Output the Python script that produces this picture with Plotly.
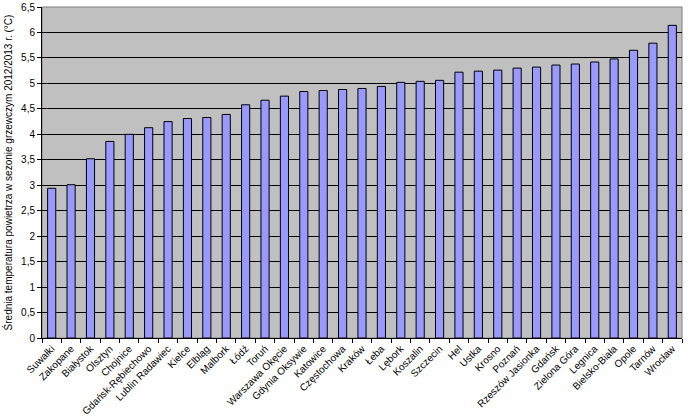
import plotly.graph_objects as go

cities = [
    "Suwałki", "Zakopane", "Białystok", "Olsztyn", "Chojnice",
    "Gdańsk-Rębiechowo", "Lublin Radawiec", "Kielce", "Elbląg", "Malbork",
    "Łódź", "Toruń", "Warszawa Okęcie", "Gdynia Oksywie", "Katowice",
    "Częstochowa", "Kraków", "Łeba", "Lębork", "Koszalin",
    "Szczecin", "Hel", "Ustka", "Krosno", "Poznań",
    "Rzeszów Jasionka", "Gdańsk", "Zielona Góra", "Legnica", "Bielsko-Biała",
    "Opole", "Tarnów", "Wrocław",
]
temps = [
    2.94, 3.01, 3.52, 3.86, 4.00,
    4.13, 4.25, 4.31, 4.33, 4.39,
    4.58, 4.67, 4.75, 4.84, 4.86,
    4.88, 4.90, 4.94, 5.02, 5.04,
    5.06, 5.22, 5.24, 5.26, 5.30,
    5.32, 5.36, 5.38, 5.42, 5.48,
    5.65, 5.79, 6.14,
]
y_title = "Średnia temperatura powietrza w sezonie grzewczym 2012/2013 r. (°C)"

font_family = "Arial, Liberation Sans, sans-serif"

fig = go.Figure()
fig.add_trace(go.Bar(
    x=cities,
    y=temps,
    marker=dict(color="#9999FF", line=dict(color="black", width=1)),
    showlegend=False,
))

fig.update_layout(
    width=693,
    height=419,
    margin=dict(l=42, r=11, t=7, b=81, autoexpand=False),
    plot_bgcolor="#C0C0C0",
    paper_bgcolor="white",
    bargap=0.58,
    separators=", ",
    font=dict(family=font_family, size=10, color="black"),
    shapes=[dict(
        type="rect", xref="paper", yref="paper", x0=0, y0=0, x1=1, y1=1,
        line=dict(color="#808080", width=1), layer="below",
    )],
)
fig.update_xaxes(
    automargin=False,
    tickangle=-45,
    tickfont=dict(size=10),
    ticks="outside",
    tickson="boundaries",
    ticklen=4,
    tickcolor="black",
    showline=True,
    linecolor="black",
    linewidth=1,
    showgrid=False,
)
fig.update_yaxes(
    automargin=False,
    range=[0, 6.5],
    dtick=0.5,
    tickformat=".1~f",
    ticks="outside",
    ticklen=4,
    tickcolor="black",
    showline=True,
    linecolor="black",
    linewidth=1,
    gridcolor="black",
    gridwidth=1,
    zeroline=False,
    title=dict(text=y_title, font=dict(size=10), standoff=6),
)

# page body has a default 8px margin, drop it so the chart sits at 0,0
post_script = "document.body.style.margin = '0';"

fig.write_html("out.html", post_script=post_script,
               config={"displayModeBar": False})
